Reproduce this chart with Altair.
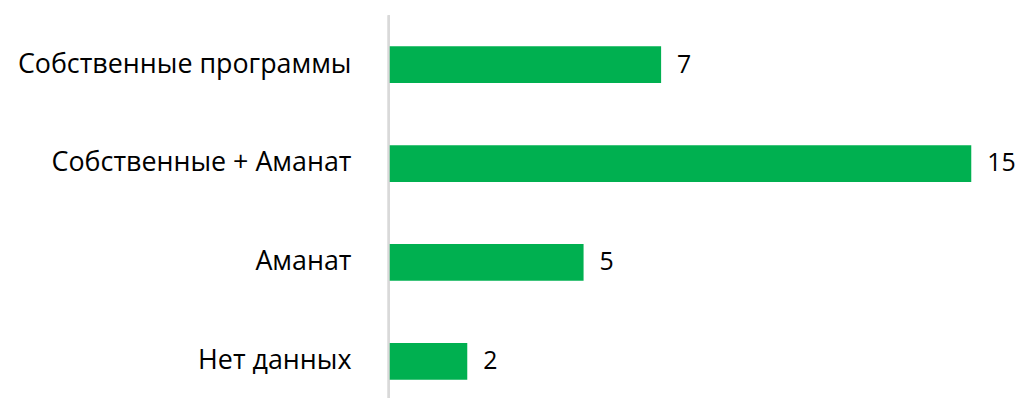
import altair as alt
import pandas as pd

categories = ["Собственные программы", "Собственные + Аманат", "Аманат", "Нет данных"]
values = [7, 15, 5, 2]

df = pd.DataFrame({"cat": categories, "val": values})
FONT = "Open Sans"

y_enc = alt.Y("cat:N", sort=categories,
              scale=alt.Scale(range=[0, 398], paddingInner=0, paddingOuter=0),
              axis=alt.Axis(title=None, domain=False, ticks=False, grid=False,
                            labelFont=FONT, labelFontSize=27, labelColor="#000000",
                            labelPadding=39, labelLimit=400,
                            minExtent=384, maxExtent=384))
x_enc = alt.X("val:Q", scale=alt.Scale(domain=[0, 15], nice=False),
              axis=None)

bars = alt.Chart(df).mark_bar(size=37, color="#00B050").encode(x=x_enc, y=y_enc)
labels = alt.Chart(df).mark_text(align="left", baseline="middle", dx=16,
                                 font=FONT, fontSize=25, color="#000000").encode(
    x=x_enc, y=y_enc, text="val:Q")
rule = alt.Chart(df).mark_rule(color="#D9D9D9", strokeWidth=2).encode(
    x=alt.value(-1), y=alt.value(0), y2=alt.value(385))

chart = alt.layer(rule, bars, labels).properties(
    width=585, height=385,
    padding={"left": 0, "top": 5, "right": 0, "bottom": 0}
).configure_view(stroke=None)

chart.save("out.html", embed_options={"renderer": "svg", "actions": False})
